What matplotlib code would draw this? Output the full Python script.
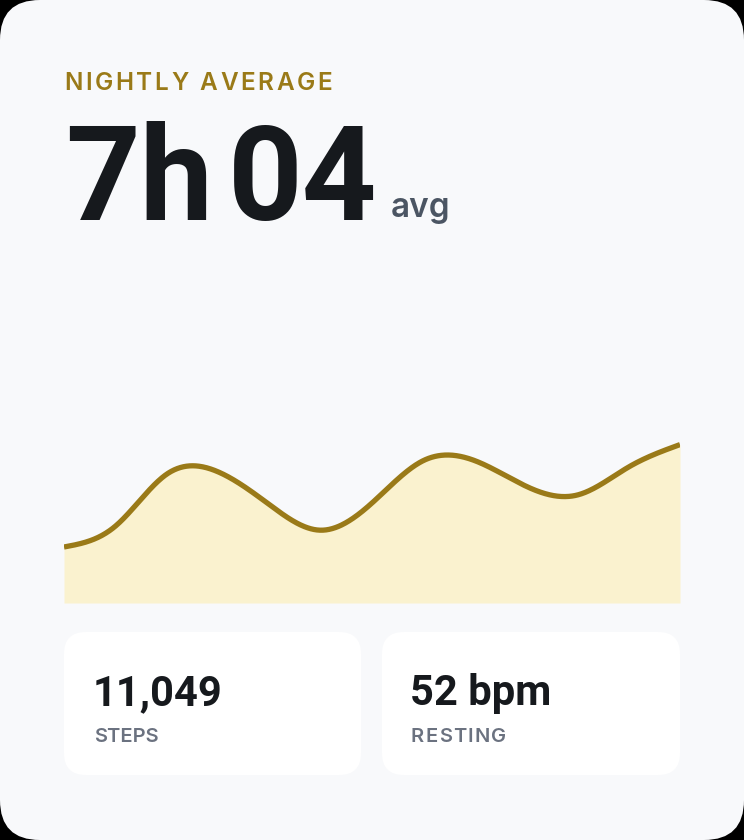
import numpy as np
import matplotlib
matplotlib.use("Agg")
import matplotlib.pyplot as plt
from matplotlib.patches import FancyBboxPatch
from matplotlib.font_manager import FontProperties

# ---------------- data ----------------
night_index = list(range(13))
sleep_hours = [6.40, 6.66, 7.31, 7.34, 6.93, 6.61, 6.95, 7.48, 7.48, 7.16, 7.05, 7.40, 7.68]
title_label = "NIGHTLY AVERAGE"
headline_hours = "7h"
headline_minutes = "04"
headline_unit = "avg"
stat_values = ["11,049", "52 bpm"]
stat_labels = ["STEPS", "RESTING"]

# ---------------- style ----------------
W, H = 744, 840
GOLD = "#9a7a18"
FILL = "#faf2cf"
CARD = "#f8f9fb"
INK = "#16191d"
SLATE = "#4b5563"
GRAY = "#6b7280"

fig = plt.figure(figsize=(W / 100, H / 100), dpi=100, facecolor="black")
bg = fig.add_axes([0, 0, 1, 1])
bg.set_xlim(0, W)
bg.set_ylim(H, 0)
bg.axis("off")
bg.set_zorder(0)

bg.add_patch(FancyBboxPatch((0, 0), W, H, boxstyle="round,pad=0,rounding_size=40",
                            fc=CARD, ec="none"))
for x0, x1 in [(64, 361), (382, 680)]:
    bg.add_patch(FancyBboxPatch((x0, 632), x1 - x0, 143,
                                boxstyle="round,pad=0,rounding_size=22",
                                fc="white", ec="none"))

renderer = fig.canvas.get_renderer()


def text_w(s, prop):
    w, h, d = renderer.get_text_width_height_descent(s, prop, ismath=False)
    return w


def tracked(x_left, x_right, y, s, family, size, weight, color):
    prop = FontProperties(family=family, weight=weight, size=size)
    sent = "|"
    ws = text_w(sent, prop)
    pos = [0.0 if i == 0 else text_w(sent + s[:i] + sent, prop) - 2 * ws
           for i in range(len(s))]
    full = text_w(s, prop)
    n = len(s)
    track = ((x_right - x_left) - full) / (n - 1) if n > 1 else 0
    if track <= 0.5:
        bg.text(x_left, y, s, fontproperties=prop, color=color,
                ha="left", va="baseline")
        return
    for i, ch in enumerate(s):
        if ch == " ":
            continue
        bg.text(x_left + pos[i] + i * track, y, ch, fontproperties=prop,
                color=color, ha="left", va="baseline")


tracked(64, 332, 90, title_label, "Inter", 17.5, "semibold", GOLD)

big = FontProperties(family="Roboto", weight="bold", size=94)
bg.text(65, 220, headline_hours, fontproperties=big, color=INK,
        ha="left", va="baseline")
bg.text(378, 220, headline_minutes, fontproperties=big, color=INK,
        ha="right", va="baseline")
bg.text(391, 217, headline_unit, family="Inter", weight="semibold", size=24,
        color=SLATE, ha="left", va="baseline")

val = FontProperties(family="Roboto", weight="bold", size=30)
bg.text(93, 705, stat_values[0], fontproperties=val, color=INK,
        ha="left", va="baseline")
bg.text(410, 705, stat_values[1], fontproperties=val, color=INK,
        ha="left", va="baseline")
tracked(94, 160, 742, stat_labels[0], "Inter", 14.5, "semibold", GRAY)
tracked(411, 506, 742, stat_labels[1], "Inter", 14.5, "semibold", GRAY)


# ---------------- chart ----------------
def natural_spline(x, y, xs):
    x = np.asarray(x, float)
    y = np.asarray(y, float)
    n = len(x)
    h = np.diff(x)
    A = np.zeros((n, n))
    b = np.zeros(n)
    A[0, 0] = A[-1, -1] = 1
    for i in range(1, n - 1):
        A[i, i - 1] = h[i - 1]
        A[i, i] = 2 * (h[i - 1] + h[i])
        A[i, i + 1] = h[i]
        b[i] = 3 * ((y[i + 1] - y[i]) / h[i] - (y[i] - y[i - 1]) / h[i - 1])
    c = np.linalg.solve(A, b)
    bb = (y[1:] - y[:-1]) / h - h * (2 * c[:-1] + c[1:]) / 3
    d = (c[1:] - c[:-1]) / (3 * h)
    idx = np.clip(np.searchsorted(x, xs) - 1, 0, n - 2)
    t = xs - x[idx]
    return y[idx] + bb[idx] * t + c[idx] * t ** 2 + d[idx] * t ** 3


base = 5.7
ax = fig.add_axes([64 / W, 1 - 603 / H, 616 / W, 203 / H])
ax.set_zorder(1)
ax.patch.set_alpha(0)
xs = np.linspace(night_index[0], night_index[-1], 800)
ys = natural_spline(night_index, sleep_hours, xs)
ax.fill_between(xs, ys, base, color=FILL, lw=0)
ax.plot(xs, ys, color=GOLD, lw=3.8, solid_capstyle="butt")
ax.set_xlim(night_index[0], night_index[-1])
ax.set_ylim(base, base + 203 / 80)
ax.axis("off")

fig.savefig("out.png", dpi=100, facecolor="black")
